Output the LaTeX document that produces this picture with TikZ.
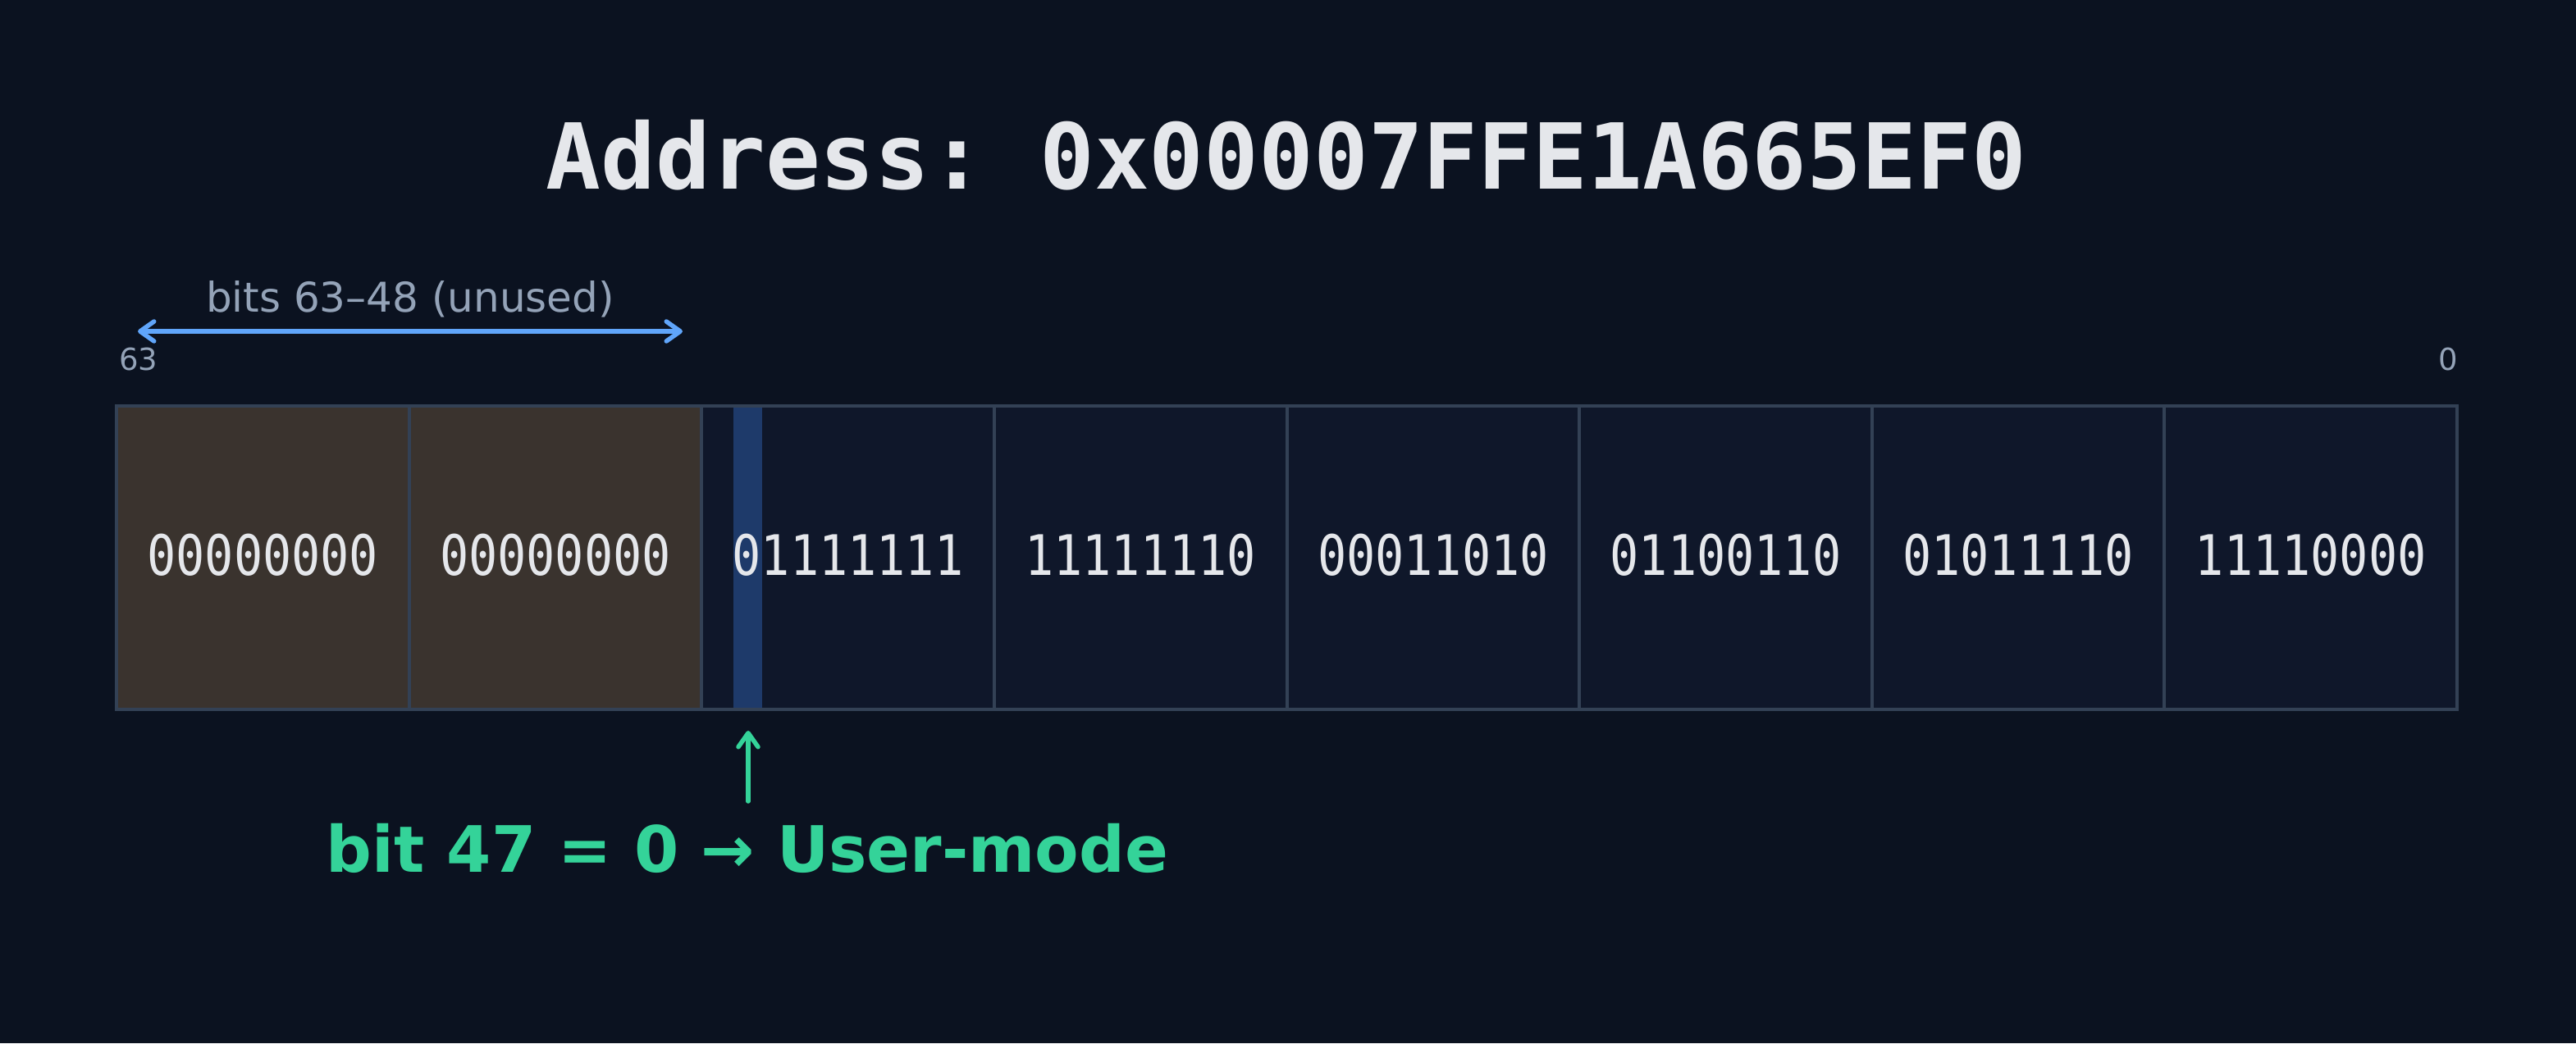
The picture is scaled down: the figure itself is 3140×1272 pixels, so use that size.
\documentclass[tikz,border=0pt]{standalone}
\usepackage{fontspec}
\setmainfont{DejaVu Sans}
\newfontfamily\titlefont{DejaVu Sans Mono}
\newfontfamily\cellfont{DejaVu Sans Mono}[FakeStretch=0.86]
\usetikzlibrary{arrows.meta}
\definecolor{bg}{HTML}{0B1220}
\definecolor{cellnavy}{HTML}{0F172A}
\definecolor{cellbrown}{RGB}{58,51,46}
\definecolor{cellborder}{HTML}{334155}
\definecolor{barblue}{HTML}{1E3A6A}
\definecolor{textwhite}{HTML}{E5E7EB}
\definecolor{labelgray}{HTML}{94A3B8}
\definecolor{arrowblue}{HTML}{60A5FA}
\definecolor{usergreen}{HTML}{34D399}
\frenchspacing
\begin{document}
\begin{tikzpicture}[x=1pt,y=-1pt,
  bytecell/.style={rectangle, draw=cellborder, line width=4pt, inner sep=0pt,
    minimum width=356.625pt, minimum height=370pt},
  celltext/.style={anchor=base, inner sep=0pt, text=textwhite,
    font=\cellfont\fontsize{68}{80}\selectfont},
  titletext/.style={anchor=base, inner sep=0pt, text=textwhite,
    font=\titlefont\bfseries\fontsize{111}{130}\selectfont\frenchspacing},
  smalllabel/.style={inner sep=0pt, text=labelgray,
    font=\fontsize{37}{44}\selectfont},
  rangelabel/.style={anchor=base, inner sep=0pt, text=labelgray,
    font=\fontsize{50}{58}\selectfont},
  userlabel/.style={anchor=base, inner sep=0pt, text=usergreen,
    font=\bfseries\fontsize{78}{90}\selectfont},
  rangearrow/.style={draw=arrowblue, line width=5.5pt,
    arrows={Straight Barb[length=17pt,width=24pt,round]-Straight Barb[length=17pt,width=24pt,round]}},
  pointarrow/.style={draw=usergreen, line width=5.5pt, line cap=round,
    -{Straight Barb[length=17pt,width=24pt,round]}}
]
\fill[bg] (0,0) rectangle (3140,1272);
\useasboundingbox (0,0) rectangle (3140,1272);

% title
\node[titletext] (title) at (1568,230) {Address: 0x00007FFE1A665EF0};

% byte cells
\foreach \i/\f in {1/cellbrown,2/cellbrown,3/cellnavy,4/cellnavy,5/cellnavy,6/cellnavy,7/cellnavy,8/cellnavy}{
  \node[bytecell, fill=\f] (c\i) at ({142+356.625*(\i-0.5)},680) {};
}

% bit 47 highlight
\fill[barblue] (894,497) rectangle (929,863);

% byte texts
\foreach \i/\t in {1/00000000,2/00000000,3/01111111,4/11111110,5/00011010,6/01100110,7/01011110,8/11110000}{
  \node[celltext] (t\i) at ({142+356.625*(\i-0.5)},701) {\t};
}

% bit index labels
\node[smalllabel, anchor=base west] (l63) at (145,451) {63};
\node[smalllabel, anchor=base east] (l0) at (2996,451) {0};

% unused range
\node[rangelabel] (rangetext) at (500,380) {bits 63–48 (unused)};
\coordinate (ra) at (168,404);
\coordinate (rb) at (832,404);
\draw[rangearrow] (ra) -- (rb);

% bit 47 pointer
\coordinate (ga) at (912,977);
\coordinate (gb) at (912,891);
\draw[pointarrow] (ga) -- (gb);
\node[userlabel] (user) at (911,1063) {bit 47 = 0 → User-mode};
\end{tikzpicture}
\end{document}
